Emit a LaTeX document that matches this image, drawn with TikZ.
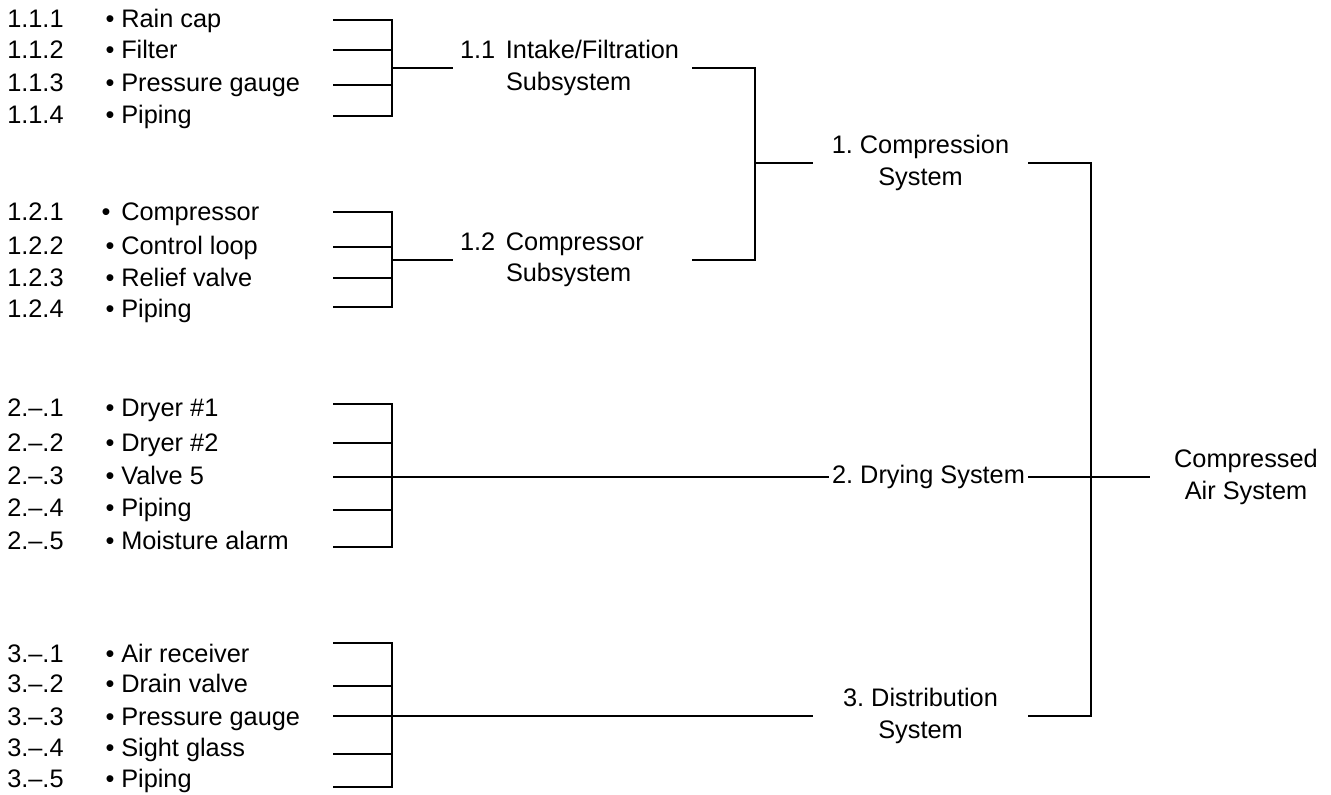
\documentclass[tikz,border=0pt]{standalone}
\usepackage{fontspec}
\setmainfont{Liberation Sans}
\frenchspacing
\newcommand\fsz{\fontsize{19}{23.5}\selectfont}
\newcommand\bul[1]{\llap{•\hspace{#1}}}
\begin{document}
\begin{tikzpicture}[x=0.75pt,y=-0.75pt,
  ln/.style={line width=1.4pt,line join=miter},
  lab/.style={anchor=base west,inner sep=0pt,font=\fsz},
  subsys/.style={font=\fsz,align=left,text width=168.75pt,inner xsep=5.25pt,inner ysep=0pt},
  sysbox/.style={font=\fsz,align=center,minimum width=161.25pt,inner xsep=0pt,inner ysep=0pt}]
\useasboundingbox (0,0) rectangle (1331,795);

% ---------- Group 1.1 ----------
\node[lab] (l111) at (7,28) {1.1.1};
\node[lab] (l112) at (7,59) {1.1.2};
\node[lab] (l113) at (7,92) {1.1.3};
\node[lab] (l114) at (7,124) {1.1.4};
\node[lab] (t111) at (121,28) {\bul{5pt}Rain cap};
\node[lab] (t112) at (121,59) {\bul{5pt}Filter};
\node[lab] (t113) at (121,92) {\bul{5pt}Pressure gauge};
\node[lab] (t114) at (121,124) {\bul{5pt}Piping};
\coordinate (a111) at (333,20);
\coordinate (a112) at (333,50);
\coordinate (a113) at (333,85);
\coordinate (a114) at (333,116);
\coordinate (b11) at (392,116);
\coordinate (s11) at (392,68);

% ---------- Group 1.2 ----------
\node[lab] (l121) at (7,220) {1.2.1};
\node[lab] (l122) at (7,254) {1.2.2};
\node[lab] (l123) at (7,286) {1.2.3};
\node[lab] (l124) at (7,317) {1.2.4};
\node[lab] (t121) at (121,220) {\bul{8pt}Compressor};
\node[lab] (t122) at (121,254) {\bul{5pt}Control loop};
\node[lab] (t123) at (121,286) {\bul{5pt}Relief valve};
\node[lab] (t124) at (121,317) {\bul{5pt}Piping};
\coordinate (a121) at (333,212);
\coordinate (a122) at (333,247);
\coordinate (a123) at (333,278);
\coordinate (a124) at (333,307);
\coordinate (b12) at (392,307);
\coordinate (s12) at (392,260);

% ---------- Group 2 ----------
\node[lab] (l21) at (7,416) {2.–.1};
\node[lab] (l22) at (7,451) {2.–.2};
\node[lab] (l23) at (7,484) {2.–.3};
\node[lab] (l24) at (7,516) {2.–.4};
\node[lab] (l25) at (7,549) {2.–.5};
\node[lab] (t21) at (121,416) {\bul{5pt}Dryer \#1};
\node[lab] (t22) at (121,451) {\bul{5pt}Dryer \#2};
\node[lab] (t23) at (121,484) {\bul{5pt}Valve 5};
\node[lab] (t24) at (121,516) {\bul{5pt}Piping};
\node[lab] (t25) at (121,549) {\bul{5pt}Moisture alarm};
\coordinate (a21) at (333,404);
\coordinate (a22) at (333,443);
\coordinate (a23) at (333,477);
\coordinate (a24) at (333,510);
\coordinate (a25) at (333,547);
\coordinate (b2) at (392,547);

% ---------- Group 3 ----------
\node[lab] (l31) at (7,662) {3.–.1};
\node[lab] (l32) at (7,692) {3.–.2};
\node[lab] (l33) at (7,725) {3.–.3};
\node[lab] (l34) at (7,756) {3.–.4};
\node[lab] (l35) at (7,787) {3.–.5};
\node[lab] (t31) at (121,662) {\bul{5pt}Air receiver};
\node[lab] (t32) at (121,692) {\bul{5pt}Drain valve};
\node[lab] (t33) at (121,725) {\bul{5pt}Pressure gauge};
\node[lab] (t34) at (121,756) {\bul{5pt}Sight glass};
\node[lab] (t35) at (121,787) {\bul{5pt}Piping};
\coordinate (a31) at (333,643);
\coordinate (a32) at (333,686);
\coordinate (a33) at (333,716);
\coordinate (a34) at (333,754);
\coordinate (a35) at (333,787);
\coordinate (b3) at (392,787);

% ---------- Subsystems and systems ----------
\node[subsys] (n11) at (572.5,68) {1.1\hspace{8pt}Intake/Filtration\\\hspace*{34.5pt}Subsystem};
\node[subsys] (n12) at (572.5,260) {1.2\hspace{8pt}Compressor\\\hspace*{34.5pt}Subsystem};
\node[sysbox] (comp) at (920.5,163) {1. Compression\\System};
\node[font=\fsz,inner xsep=2.25pt,inner ysep=0pt] (dry) at (928.5,477) {2. Drying System};
\node[sysbox] (dist) at (920.5,716) {3. Distribution\\System};
\node[font=\fsz,align=center,inner xsep=18pt,inner ysep=0pt] (cas) at (1246,477) {Compressed\\Air System};
\coordinate (j1) at (755,163);
\coordinate (c1) at (755,260);
\coordinate (jm) at (1091,716);

% ---------- Connectors ----------
\draw[ln] (a111) -| (b11) -- (a114);
\draw[ln] (a112) -- (a112 -| b11);
\draw[ln] (a113) -- (a113 -| b11);
\draw[ln] (s11) -- (n11.west);

\draw[ln] (a121) -| (b12) -- (a124);
\draw[ln] (a122) -- (a122 -| b12);
\draw[ln] (a123) -- (a123 -| b12);
\draw[ln] (s12) -- (n12.west);

\draw[ln] (a21) -| (b2) -- (a25);
\draw[ln] (a22) -- (a22 -| b2);
\draw[ln] (a24) -- (a24 -| b2);
\draw[ln] (a23) -- (dry.west);

\draw[ln] (a31) -| (b3) -- (a35);
\draw[ln] (a32) -- (a32 -| b3);
\draw[ln] (a34) -- (a34 -| b3);
\draw[ln] (a33) -- (dist.west);

\draw[ln] (n11.east) -| (c1) -- (n12.east);
\draw[ln] (j1) -- (comp.west);

\draw[ln] (comp.east) -| (jm) -- (dist.east);
\draw[ln] (dry.east) -- (cas.west);
\end{tikzpicture}
\end{document}
